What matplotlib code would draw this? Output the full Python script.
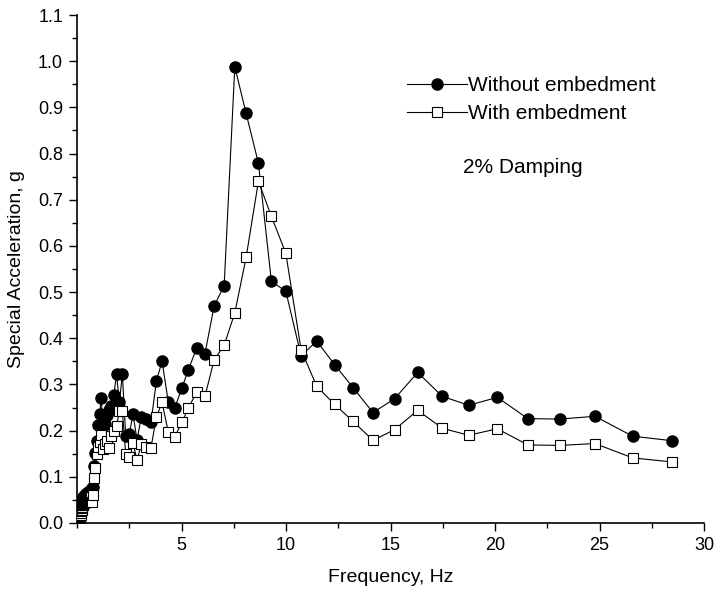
import matplotlib
matplotlib.use("Agg")
import matplotlib.pyplot as plt
from matplotlib.lines import Line2D
from matplotlib.ticker import MultipleLocator

plt.rcParams['font.family'] = ['Liberation Sans', 'DejaVu Sans']

freq = [0.10, 0.11, 0.12, 0.13, 0.14, 0.15, 0.16, 0.18, 0.19, 0.20, 0.22, 0.23, 0.25,
        0.27, 0.29, 0.31, 0.33, 0.36, 0.38, 0.41, 0.44, 0.47, 0.50, 0.54, 0.58, 0.62,
        0.67, 0.71, 0.76, 0.82, 0.88, 0.94, 1.01, 1.08, 1.16, 1.24, 1.33, 1.43, 1.53,
        1.64, 1.76, 1.89, 2.03, 2.17, 2.33, 2.50, 2.68, 2.87, 3.08, 3.30, 3.54, 3.80,
        4.07, 4.37, 4.68, 5.02, 5.32, 5.72, 6.12, 6.56, 7.04, 7.55, 8.09, 8.68, 9.30,
        9.99, 10.72, 11.47, 12.32, 13.21, 14.16, 15.19, 16.30, 17.48, 18.74, 20.11,
        21.57, 23.10, 24.78, 26.58, 28.49]

without_emb = [0.005, 0.008, 0.010, 0.012, 0.015, 0.018, 0.020, 0.025, 0.030, 0.035,
               0.040, 0.045, 0.050, 0.052, 0.055, 0.057, 0.058, 0.060, 0.060, 0.062,
               0.063, 0.062, 0.065, 0.066, 0.068, 0.070, 0.072, 0.075, 0.078, 0.124,
               0.152, 0.178, 0.212, 0.236, 0.270, 0.210, 0.215, 0.234, 0.245, 0.254,
               0.277, 0.322, 0.261, 0.322, 0.189, 0.192, 0.236, 0.180, 0.230, 0.225,
               0.218, 0.308, 0.350, 0.261, 0.250, 0.292, 0.331, 0.378, 0.366, 0.470,
               0.514, 0.988, 0.887, 0.779, 0.523, 0.502, 0.362, 0.394, 0.343, 0.293,
               0.239, 0.269, 0.326, 0.274, 0.255, 0.272, 0.226, 0.225, 0.231, 0.188,
               0.178]

with_emb = [0.003, 0.005, 0.007, 0.009, 0.011, 0.013, 0.015, 0.018, 0.022, 0.025,
            0.028, 0.032, 0.035, 0.038, 0.040, 0.042, 0.044, 0.046, 0.047, 0.048,
            0.049, 0.050, 0.051, 0.052, 0.054, 0.055, 0.057, 0.045, 0.060, 0.098,
            0.118, 0.150, 0.165, 0.175, 0.190, 0.160, 0.170, 0.178, 0.163, 0.189,
            0.200, 0.209, 0.243, 0.243, 0.149, 0.143, 0.174, 0.136, 0.171, 0.165,
            0.163, 0.230, 0.261, 0.196, 0.187, 0.218, 0.248, 0.283, 0.274, 0.353,
            0.385, 0.455, 0.575, 0.740, 0.664, 0.584, 0.375, 0.296, 0.257, 0.220,
            0.179, 0.202, 0.244, 0.205, 0.190, 0.204, 0.169, 0.168, 0.172, 0.141,
            0.132]

labels = ["Without embedment", "With embedment"]
annotation = "2% Damping"
xlabel = "Frequency, Hz"
ylabel = "Special Acceleration, g"
xticks = [5, 10, 15, 20, 25, 30]
yticks = [0.0, 0.1, 0.2, 0.3, 0.4, 0.5, 0.6, 0.7, 0.8, 0.9, 1.0, 1.1]

fig = plt.figure(figsize=(7.15, 5.92), dpi=100)
ax = fig.add_axes([0.1077, 0.1166, 0.877, 0.858])

ax.plot(freq, without_emb, color='black', lw=0.8, marker='o', markersize=8,
        markerfacecolor='black', markeredgecolor='black', zorder=3)
ax.plot(freq, with_emb, color='black', lw=0.8, marker='s', markersize=6.5,
        markerfacecolor='white', markeredgecolor='black', markeredgewidth=0.8, zorder=3)

ax.set_xlim(0, 30)
ax.set_ylim(0, 1.1)
ax.set_xticks(xticks)
ax.set_yticks(yticks)
ax.set_yticklabels([f"{v:.1f}" for v in yticks])
ax.xaxis.set_minor_locator(MultipleLocator(2.5))
ax.yaxis.set_minor_locator(MultipleLocator(0.05))
ax.tick_params(which='major', direction='out', length=6, width=1, labelsize=13, pad=4)
ax.tick_params(which='minor', direction='out', length=3.5, width=1)
for s in ['top', 'right']:
    ax.spines[s].set_visible(False)
for s in ['left', 'bottom']:
    ax.spines[s].set_linewidth(1.2)

ax.set_xlabel(xlabel, fontsize=14, labelpad=11)
ax.set_ylabel(ylabel, fontsize=14, labelpad=9)

handles = [
    Line2D([], [], color='black', lw=0.8, marker='o', markersize=8,
           markerfacecolor='black', markeredgecolor='black'),
    Line2D([], [], color='black', lw=0.8, marker='s', markersize=6.5,
           markerfacecolor='white', markeredgecolor='black', markeredgewidth=0.8),
]
ax.legend(handles, labels, loc='upper left', bbox_to_anchor=(0.526, 0.880),
          frameon=False, fontsize=15, handlelength=2.9, handletextpad=0.05,
          borderpad=0, borderaxespad=0, labelspacing=0.44, numpoints=1)

ax.text(0.616, 0.70, annotation, transform=ax.transAxes, fontsize=15,
        ha='left', va='center')

fig.savefig("out.png", dpi=100)
